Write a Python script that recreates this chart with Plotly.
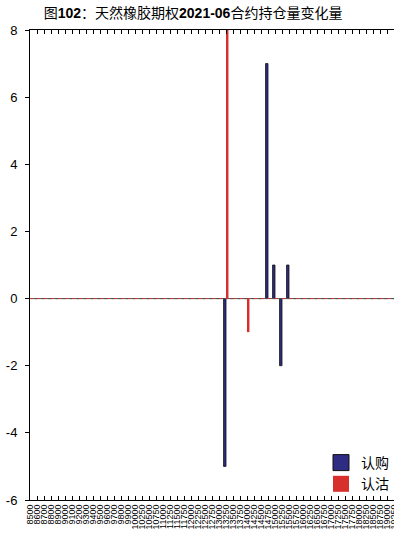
import plotly.graph_objects as go

strikes = [str(s) for s in range(8500, 10000, 100)] + [str(s) for s in range(10000, 19500, 250)]
call_idx = {"13250": -5, "14750": 7, "15000": 1, "15250": -2, "15500": 1}
put_idx = {"13250": 8, "14000": -1}
call_vals = [call_idx.get(s, 0) for s in strikes]
put_vals = [put_idx.get(s, 0) for s in strikes]
y_ticks = [8, 6, 4, 2, 0, -2, -4, -6]
y_labels = [str(v) for v in y_ticks]

CALL_C = "#2E2B82"
PUT_C = "#D7302C"
FONT = "Liberation Sans, Arial, Noto Sans CJK SC"
fig = go.Figure()
fig.add_trace(go.Bar(x=strikes, y=call_vals, name="认购", showlegend=False,
                     marker=dict(color=CALL_C, line=dict(color="#111111", width=0.8))))
fig.add_trace(go.Bar(x=strikes, y=put_vals, name="认沽", showlegend=False,
                     marker=dict(color=PUT_C, line=dict(color=PUT_C, width=0))))
# legend entries with larger square swatches
fig.add_trace(go.Scatter(x=[None], y=[None], mode="markers", name="认购",
                         marker=dict(symbol="square", size=16, color=CALL_C,
                                     line=dict(color="#111111", width=1))))
fig.add_trace(go.Scatter(x=[None], y=[None], mode="markers", name="认沽",
                         marker=dict(symbol="square", size=16, color=PUT_C,
                                     line=dict(color=PUT_C, width=0))))

fig.add_shape(type="line", xref="paper", yref="y", x0=0, x1=1, y0=0, y1=0,
              line=dict(color="#555555", width=1))
fig.add_shape(type="line", xref="paper", yref="y", x0=0, x1=1, y0=0, y1=0,
              line=dict(color=PUT_C, width=1, dash="3px,4px"))

fig.update_layout(
    width=394, height=536,
    margin=dict(l=30, r=0, t=30, b=36),
    paper_bgcolor="white", plot_bgcolor="white",
    barmode="group", bargap=0.3, bargroupgap=0,
    font=dict(family=FONT, color="black"),
    title=dict(text="图<b>102</b>：天然橡胶期权<b>2021-06</b>合约持仓量变化量",
               x=0.49, xanchor="center", y=0.975, yanchor="middle",
               font=dict(size=14, family=FONT, color="black")),
    legend=dict(x=1.0, xanchor="right", y=0.0, yanchor="bottom",
                bgcolor="rgba(0,0,0,0)", font=dict(size=14, family=FONT),
                tracegroupgap=0, itemwidth=30),
    showlegend=True,
)
fig.update_xaxes(type="category", range=[0, len(strikes) - 1],
                 tickmode="array", tickvals=strikes, ticktext=strikes,
                 tickangle=-90, tickfont=dict(size=9, family=FONT),
                 ticks="inside", ticklen=4, tickcolor="black",
                 showline=True, linecolor="black", linewidth=1, mirror="ticks",
                 showgrid=False, automargin=False)
fig.update_yaxes(range=[-6, 8], tickmode="array", tickvals=y_ticks, ticktext=y_labels,
                 tickfont=dict(size=13, family=FONT),
                 ticks="outside", ticklen=4, tickcolor="black", ticklabelstandoff=5,
                 showline=True, linecolor="black", linewidth=1,
                 showgrid=False, zeroline=False, automargin=False)

fig.write_html("out.html", config={"displayModeBar": False})

with open("out.html", "r", encoding="utf-8") as f:
    html = f.read()
html = html.replace("<body>", '<body style="margin:0;padding:0;overflow:hidden">', 1)
with open("out.html", "w", encoding="utf-8") as f:
    f.write(html)
